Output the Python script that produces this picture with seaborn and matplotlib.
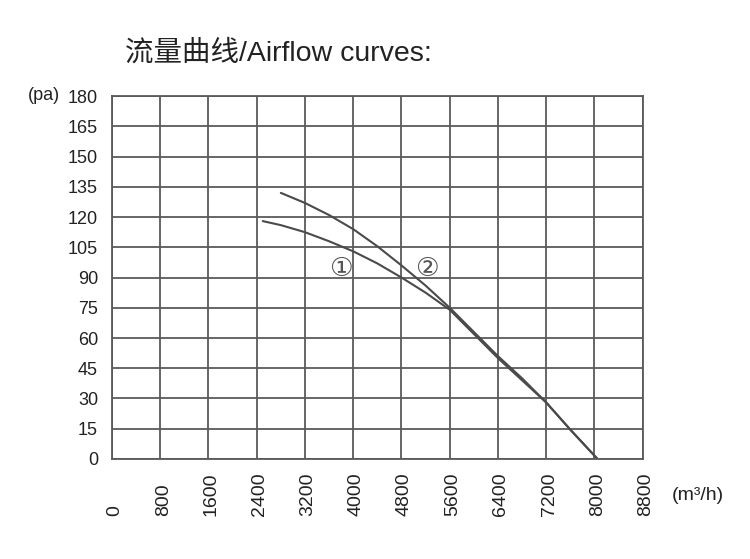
import pandas as pd
import seaborn as sns
from matplotlib import pyplot as plt
from matplotlib.transforms import ScaledTranslation

# curve ① (lower start) and curve ② (upper start)
flow_1 = [2500, 2800, 3200, 3600, 4000, 4400, 4800, 5200, 5600, 6000, 6400, 6800, 7200, 7600, 8050]
pres_1 = [118, 116, 112.5, 108, 103, 97, 90, 82.5, 74, 62, 50, 39, 28, 14.5, 0]
flow_2 = [2800, 3200, 3600, 4000, 4400, 4800, 5200, 5600, 6000, 6400, 6800, 7200, 7600, 8050]
pres_2 = [132, 127, 121, 114, 105.5, 96, 86, 75, 63, 51, 40, 28, 14.5, 0]

x_ticks = [0, 800, 1600, 2400, 3200, 4000, 4800, 5600, 6400, 7200, 8000, 8800]
y_ticks = [0, 15, 30, 45, 60, 75, 90, 105, 120, 135, 150, 165, 180]

# label positions for the circled numbers
label_pos = {"①": (3800, 94.5), "②": (5220, 94.5)}

sns.set_style("white")
plt.rcParams['font.family'] = ['Liberation Sans', 'DejaVu Sans', 'Noto Sans CJK SC']

df = pd.concat([
    pd.DataFrame({"flow": flow_1, "pressure": pres_1, "curve": "1"}),
    pd.DataFrame({"flow": flow_2, "pressure": pres_2, "curve": "2"}),
])

fig = plt.figure(figsize=(7.5, 5.59), dpi=100)
ax = fig.add_axes([0.1493, 0.179, 0.7077, 0.649])

sns.lineplot(data=df, x="flow", y="pressure", units="curve", estimator=None,
             color="#4a4a4a", linewidth=1.5, ax=ax, legend=False)

ax.set_xlim(0, 8800)
ax.set_ylim(0, 180)
ax.set_xticks(x_ticks)
ax.set_yticks(y_ticks)
ax.grid(True, color="#5a5a5a", linewidth=1.3)
ax.set_axisbelow(True)
for s in ax.spines.values():
    s.set_color("#5a5a5a")
    s.set_linewidth(1.3)

ax.tick_params(axis="both", length=0, labelsize=13, colors="#222222")
ax.tick_params(axis="y", pad=10)
ax.tick_params(axis="x", pad=41, labelsize=14)
ax.set_xticklabels([str(v) for v in x_ticks], rotation=90, rotation_mode="anchor",
                   ha="left", va="center")
shift = ScaledTranslation(3 / 100, 0, fig.dpi_scale_trans)
for lbl in ax.get_xticklabels():
    lbl.set_transform(lbl.get_transform() + shift)
ax.set_xlabel("")
ax.set_ylabel("")

for txt, (lx, ly) in label_pos.items():
    ax.text(lx, ly, txt, fontsize=19, ha="center", va="center", color="#555555",
            family=['DejaVu Sans', 'Noto Sans CJK SC'])

fig.text(60 / 750, 1 - 96 / 559, "(pa)", fontsize=13, ha="right", va="center", color="#222222")
fig.text(672 / 750, 1 - 495 / 559, "(m³/h)", fontsize=14, ha="left", va="center", color="#222222")
fig.text(125 / 750, 1 - 53 / 559, "流量曲线/Airflow curves:", fontsize=20.5, ha="left", va="center",
         color="#222222", family=['Liberation Sans', 'Noto Sans CJK SC'])

fig.savefig("out.png", dpi=100)
